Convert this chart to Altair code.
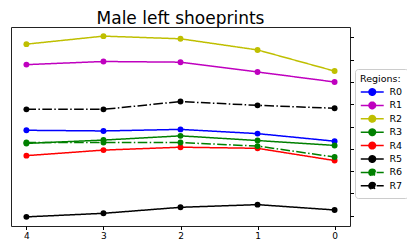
import altair as alt
import pandas as pd

steps = [4, 3, 2, 1, 0]
regions = ["R0", "R1", "R2", "R3", "R4", "R5", "R6", "R7"]
r0 = [3.83, 3.80, 3.87, 3.68, 3.34]
r1 = [6.78, 6.92, 6.89, 6.45, 6.00]
r2 = [7.70, 8.06, 7.94, 7.44, 6.49]
r3 = [3.24, 3.39, 3.58, 3.37, 3.15]
r4 = [2.69, 2.94, 3.07, 3.02, 2.47]
r5 = [-0.06, 0.10, 0.37, 0.49, 0.25]
r6 = [3.28, 3.28, 3.28, 3.12, 2.63]
r7 = [4.77, 4.77, 5.12, 4.95, 4.82]
series = [r0, r1, r2, r3, r4, r5, r6, r7]
colors = ["#0000ff", "#bf00bf", "#bfbf00", "#008000", "#ff0000", "#000000", "#008000", "#000000"]
dashdot = [9.6, 2.4, 1.5, 2.4]
dashes = [[1, 0]] * 6 + [dashdot, dashdot]
y_ticks = [0, 1, 2, 3, 4, 5, 6, 7, 8]

rows = []
for name, vals in zip(regions, series):
    for s, v in zip(steps, vals):
        rows.append({"step": s, "value": v, "Region": name})
df = pd.DataFrame(rows)

font = "DejaVu Sans"
sym = "M-1,0H3M0.43,0A0.57,0.57 0 1,1 1.57,0A0.57,0.57 0 1,1 0.43,0"

leg = alt.Legend(title="Regions:", orient="none", legendX=344, legendY=42,
                 padding=5, strokeColor="#cccccc", fillColor="white",
                 cornerRadius=3, titleFontSize=9.5, titleFont=font,
                 titleFontWeight="normal", titleColor="black",
                 titlePadding=2,
                 labelFontSize=9.5, labelFont=font, labelColor="black",
                 symbolType=sym, symbolSize=132, symbolStrokeWidth=1.5,
                 symbolOpacity=1,
                 labelOffset=16.5, rowPadding=0.4)

x = alt.X("step:Q",
          scale=alt.Scale(domain=[-0.2, 4.2], reverse=True, nice=False, zero=False),
          axis=alt.Axis(values=steps, format="d", title=None, grid=False, domain=False,
                        tickSize=3.5, tickColor="black", labelFontSize=9, labelColor="black",
                        labelFont=font, labelPadding=2))
y = alt.Y("value:Q",
          scale=alt.Scale(domain=[-0.47, 8.47], nice=False, zero=False),
          axis=alt.Axis(orient="right", values=y_ticks, labels=False, title=None, grid=False,
                        domain=False, tickSize=3.5, tickColor="black"))
color = alt.Color("Region:N", scale=alt.Scale(domain=regions, range=colors), legend=leg)
fill = alt.Fill("Region:N", scale=alt.Scale(domain=regions, range=colors), legend=leg)
dash = alt.StrokeDash("Region:N", scale=alt.Scale(domain=regions, range=dashes), legend=leg)

lines = alt.Chart(df).mark_line(strokeWidth=1.5).encode(x=x, y=y, color=color, strokeDash=dash)
points = alt.Chart(df).mark_point(filled=True, size=35, opacity=1).encode(x=x, y=y, fill=fill)

chart = alt.layer(lines, points).properties(
    width=339, height=199,
    title=alt.TitleParams("Male left shoeprints", fontSize=17, font=font, fontWeight="normal",
                          color="black", anchor="middle", offset=-0.6),
    autosize=alt.AutoSizeParams(type="none"),
    padding={"left": 3, "top": 19, "right": 57, "bottom": 14},
).configure_view(stroke="#222222", strokeWidth=1)

chart.save("out.html", embed_options={"renderer": "svg", "actions": False})
